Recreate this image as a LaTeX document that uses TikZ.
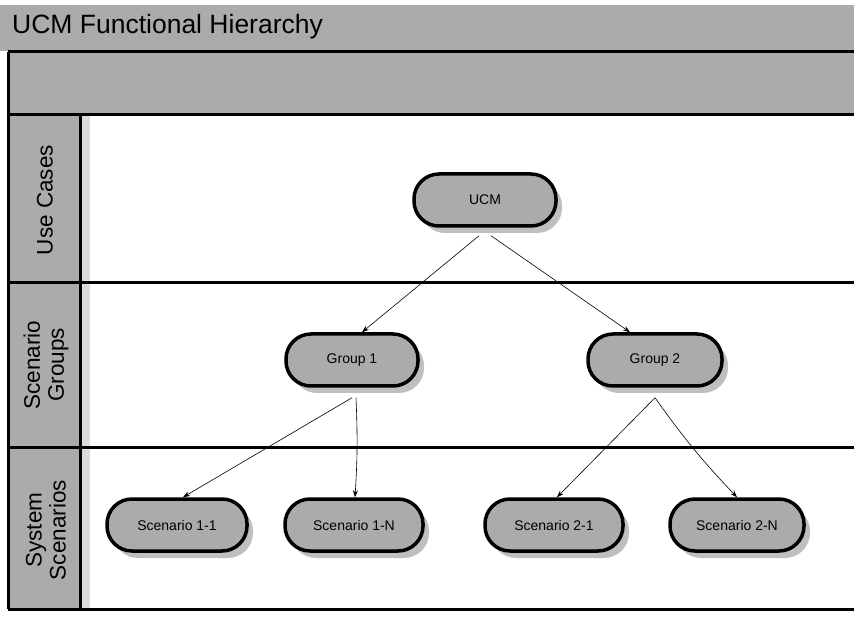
\documentclass[tikz,border=0pt]{standalone}
\usepackage{fontspec}
\setmainfont{Liberation Sans}
\usetikzlibrary{arrows.meta,shadows,calc}

\tikzset{
  band/.style={fill=black!33, draw=none},
  frame/.style={line width=3pt, draw=black},
  lanelabel/.style={rotate=90, align=center, font=\fontsize{22.5}{24}\selectfont, text=black},
  stadium/.style={rectangle, rounded corners=25pt, draw=black, line width=3.5pt, fill=black!33,
    minimum height=52pt, inner sep=2pt,
    font=\fontsize{14}{16}\selectfont,
    drop shadow={shadow xshift=6pt, shadow yshift=-7pt, fill=black!25, opacity=1}},
  link/.style={draw=black, line width=0.6pt, -{Stealth[length=7pt,width=5pt]}}
}

\begin{document}
\begin{tikzpicture}[x=1pt,y=-1pt]
  \useasboundingbox (0,0) rectangle (854,617);
  \fill[white] (0,0) rectangle (854,617);

  % title band and header band
  \fill[band] (0,5) rectangle (854,51);
  \node[anchor=west, inner sep=0pt, font=\fontsize{26.5}{28}\selectfont] (title) at (12,27) {UCM Functional Hierarchy};
  \fill[band] (8,52) rectangle (854,115);

  % lane header column and the thin strip beside it
  \fill[band] (8,115) rectangle (80,609);
  \fill[black!14] (82,116) rectangle (90,608);

  % frame and lane separators
  \draw[frame] (8,52) -- (854,52);
  \draw[frame] (8,115) -- (854,115);
  \draw[frame] (8,283) -- (854,283);
  \draw[frame] (8,447) -- (854,447);
  \draw[frame] (8,609) -- (854,609);
  \draw[frame] (8,52) -- (8,609);
  \draw[frame] (80,115) -- (80,609);

  % lane labels
  \node[lanelabel] (laneA) at (45,200) {Use Cases};
  \node[lanelabel] (laneB) at (46,365) {Scenario\\Groups};
  \node[lanelabel] (laneC) at (46,530) {System\\Scenarios};

  % hierarchy nodes
  \node[stadium, minimum width=142pt] (ucm) at (485,200) {UCM};
  \node[stadium, minimum width=132pt] (g1) at (352,360) {Group 1};
  \node[stadium, minimum width=134pt] (g2) at (655,360) {Group 2};
  \node[stadium, minimum width=140pt] (s11) at (177,525) {Scenario 1-1};
  \node[stadium, minimum width=138pt] (s1n) at (354,525) {Scenario 1-N};
  \node[stadium, minimum width=138pt] (s21) at (554,525) {Scenario 2-1};
  \node[stadium, minimum width=134pt] (s2n) at (737,525) {Scenario 2-N};

  % connectors
  \draw[link] ($(ucm.south)+(-6,8)$) -- ($(g1.north)+(10,0)$);
  \draw[link] ($(ucm.south)+(6,8)$) -- ($(g2.north)+(-25,0)$);
  \draw[link] ($(g1.south)+(0,10)$) -- ($(s11.north)+(6,0)$);
  \draw[link] ($(g1.south)+(4,10)$) to[bend left=3] ($(s1n.north)+(1,0)$);
  \draw[link] ($(g2.south)+(0,10)$) -- ($(s21.north)+(3,0)$);
  \draw[link] ($(g2.south)+(0,10)$) to[bend right=4] (s2n.north);
\end{tikzpicture}
\end{document}
